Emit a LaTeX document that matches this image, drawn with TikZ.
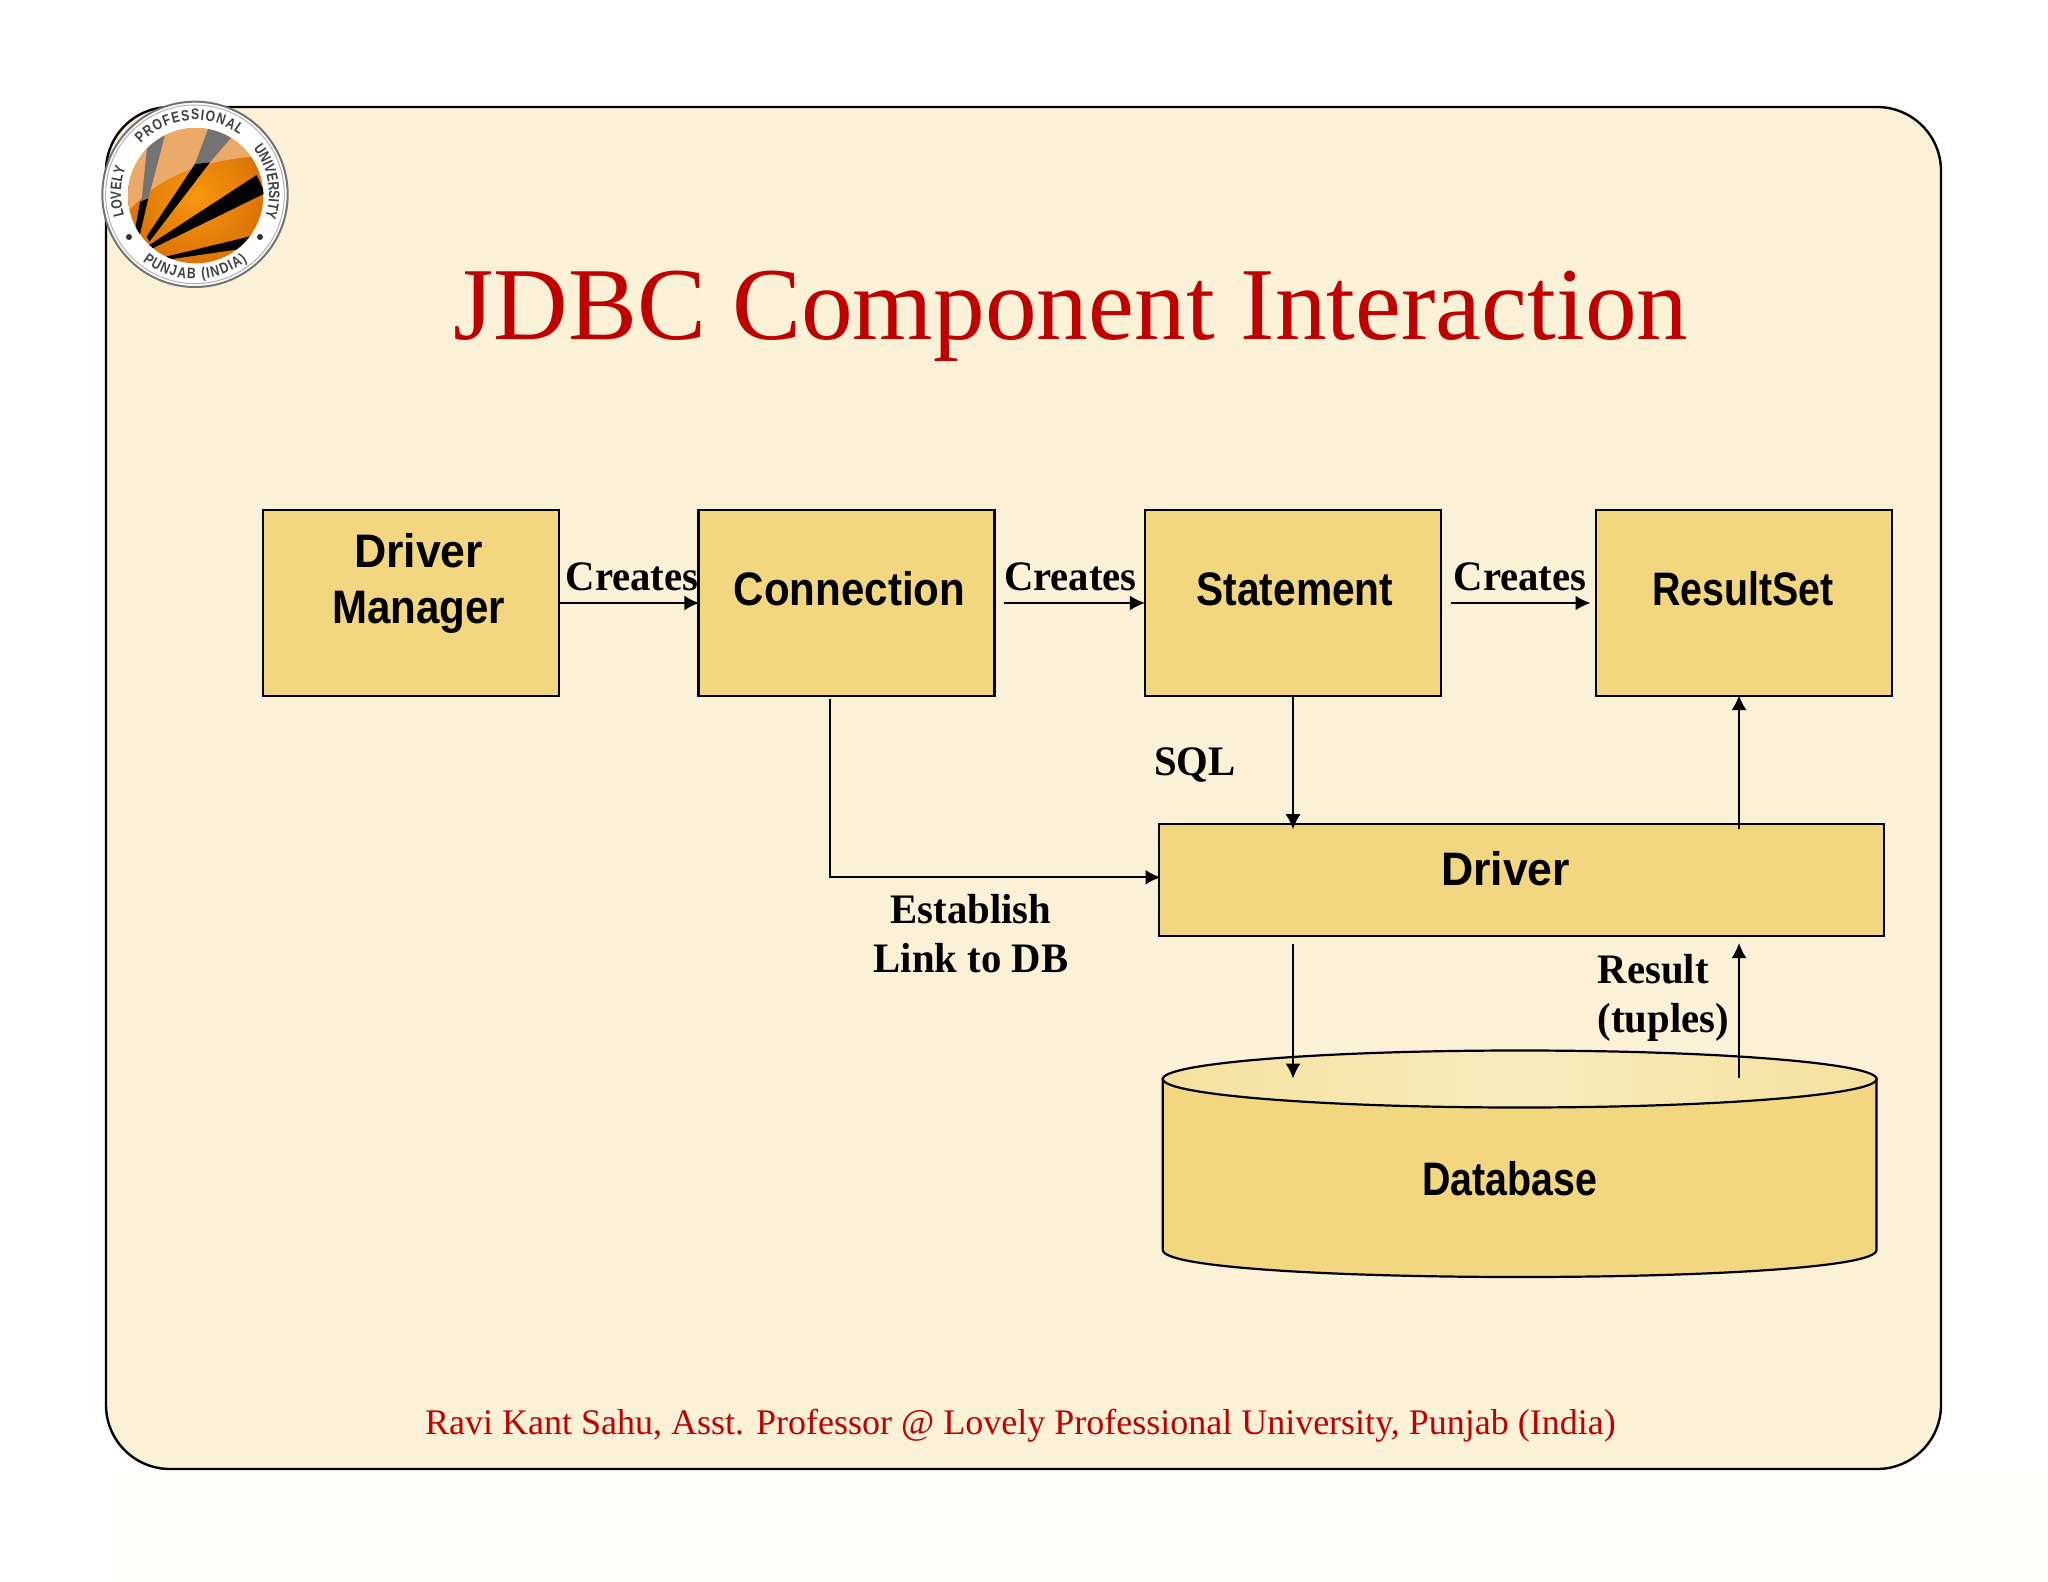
\documentclass[tikz,border=0pt]{standalone}
\usepackage{fontspec}
\usetikzlibrary{arrows.meta,calc,decorations.text}
\setmainfont{Liberation Serif}
\newfontfamily\boxwide{Liberation Sans}[FakeStretch=0.95]
\newfontfamily\boxfont{Liberation Sans}[FakeStretch=0.895]
\newfontfamily\boxmid{Liberation Sans}[FakeStretch=0.866]
\newfontfamily\boxnarrow{Liberation Sans}[FakeStretch=0.837]
\newfontfamily\logofont{Liberation Sans}[FakeStretch=0.8]
\newfontfamily\labelfont{Liberation Serif}[FakeStretch=0.97]
\definecolor{panelfill}{HTML}{FBF1D7}
\definecolor{boxfill}{HTML}{F2D780}
\definecolor{lidfill}{HTML}{F9EABB}
\definecolor{lidedge}{HTML}{F5E2A0}
\definecolor{titlered}{HTML}{C00000}
\definecolor{discglow}{HTML}{F8960F}
\definecolor{discedge}{HTML}{DC7406}
\definecolor{discgloss}{HTML}{EBA96A}
\begin{document}
\begin{tikzpicture}[x=0.5pt,y=-0.5pt,
    box/.style={draw=black,fill=boxfill,line width=1.1pt,minimum width=148pt,minimum height=93pt,inner sep=0pt},
    boxtext/.style={anchor=base,font=#1\bfseries\fontsize{23.5}{28}\selectfont},
    lbl/.style={anchor=base,inner sep=0pt,font=\labelfont\bfseries\fontsize{21}{24.5}\selectfont},
    logoword/.style={decorate,decoration={text along path,text align=fit to path,text={|\logofont\bfseries\fontsize{7.6}{8}\selectfont\color{black!75}|#1}}},
    conn/.style={line width=1pt,-{Latex[length=7.5pt,width=7.5pt]}}]
  \useasboundingbox (0,0) rectangle (2048,1582);
  \fill[white] (0,0) rectangle (2048,1582);
  \fill[panelfill!6!white] (112,1470) rectangle (2048,1582);
  % panel
  \draw[fill=panelfill,line width=1.2pt,rounded corners=32pt] (106,107) rectangle (1941,1469);

  % logo, in crop coordinates
  \begin{scope}[shift={(80,80)},x=0.16667pt,y=-0.16667pt]
    \fill[white] (345,343) circle[radius=278];
    \draw[black!55,line width=1pt] (345,343) circle[radius=278];
    \draw[black!30,line width=0.5pt] (345,343) circle[radius=268];
    \clip (347,347) circle[radius=203];
    \shade[inner color=discglow,outer color=discedge] (347,347) circle[radius=203];
    \fill[discgloss] (120,420) .. controls (210,320) and (300,240) .. (580,225) -- (580,100) -- (120,100) -- cycle;
    \fill[black!55] (205,165) -- (255,165) -- (205,355) -- (185,360) -- cycle;
    \fill[black] (180,365) -- (205,355) -- (178,470) -- (165,450) -- cycle;
    \fill[black!55] (385,145) -- (460,165) -- (390,247) -- (345,252) -- cycle;
    \fill[black] (345,252) -- (390,247) -- (208,485) -- (200,470) -- cycle;
    \fill[black] (530,285) -- (555,340) -- (218,505) -- (208,495) -- cycle;
    \fill[black] (515,468) -- (495,505) -- (255,540) -- (245,533) -- cycle;
  \end{scope}
  \fill[black!80] (129,237) circle[radius=3];
  \fill[black!80] (260,237) circle[radius=3];
  \begin{scope}[shift={(195,194)},x=1pt,y=1pt]
    \path[logoword=LOVELY] (197:37) arc (197:160:37);
    \path[logoword=PROFESSIONAL] (137:37) arc (137:53:37);
    \path[logoword=UNIVERSITY] (38:37) arc (38:-18:37);
    \path[logoword={PUNJAB (INDIA)}] (232:42.5) arc (232:308:42.5);
  \end{scope}

  % title and footer
  \node[anchor=base,text=titlered,font=\fontsize{51.7}{56}\selectfont] (title) at (1071,340) {JDBC Component Interaction};
  \node[anchor=base,text=titlered,font=\fontsize{18}{20}\selectfont] (footer) at (1020.5,1434) {Ravi Kant Sahu, Asst. Professor @ Lovely Professional University, Punjab (India)};

  % boxes
  \node[box] (dm) at (411.2,603) {};
  \node[box] (cn) at (846.4,603) {};
  \node[box] (st) at (1293,603) {};
  \node[box] (rs) at (1744,603) {};
  \node[box,minimum width=362.5pt,minimum height=55.7pt] (dr) at (1521.5,880) {};

  % database
  \draw[fill=boxfill,line width=1.1pt] (1162.8,1079) -- (1162.8,1250) .. controls (1162.8,1286) and (1876.5,1286) .. (1876.5,1250) -- (1876.5,1079) -- cycle;
  \draw[left color=lidedge,right color=lidedge,middle color=lidfill,line width=1.1pt] (1519.7,1079) ellipse[x radius=356.9,y radius=28.5];
  \node[minimum width=356pt,minimum height=85pt,inner sep=0pt] (db) at (1519.7,1164) {};

  \node[boxtext=\boxwide] (dmt) at (418.6,567.5) {Driver};
  \node[boxtext=\boxfont] (dmu) at (418.6,623.5) {Manager};
  \node[boxtext=\boxfont] (cnt) at (849.5,605) {Connection};
  \node[boxtext=\boxmid] (stt) at (1295,605) {Statement};
  \node[boxtext=\boxnarrow] (rst) at (1742.8,605) {ResultSet};
  \node[boxtext=\boxwide] (drt) at (1505.6,885) {Driver};
  \node[boxtext=\boxnarrow] (dbt) at (1509.5,1195) {Database};

  % connector labels
  \node[lbl] (c1) at (632,590.2) {Creates};
  \node[lbl] (c2) at (1070.4,590.2) {Creates};
  \node[lbl] (c3) at (1520,590.2) {Creates};
  \node[lbl] (sql) at (1195,775) {SQL};
  \node[lbl,anchor=center,align=center] (est) at (971,933.5) {Establish\\Link to DB};
  \node[lbl,anchor=west,align=left] (res) at (1597.4,997.5) {Result\\(tuples)};

  % free ends
  \coordinate (cnout) at (1003.8,603);
  \coordinate (stout) at (1450.8,603);
  \coordinate (rsin) at (1590.5,603);
  \coordinate (cnin) at (829.8,699.3);
  \coordinate (drin) at (1160.5,877.3);
  \coordinate (up) at (1739,829);
  \coordinate (drlow) at (1293,944);
  \coordinate (dbin) at (1293,1078.5);
  \coordinate (dbout) at (1739,1077.7);
  \coordinate (drhigh) at (1739,943);

  \draw[conn,shorten >=-1pt] (dm.east |- cnout) -- (cn.west |- cnout);
  \draw[conn,shorten >=-0.5pt] (cnout) -- (st.west |- cnout);
  \draw[conn] (stout) -- (rsin);
  \draw[conn] (cnin) |- (drin);
  \draw[conn,line width=0.85pt,shorten >=-3pt] (st.south) -- (st.south |- dr.north);
  \draw[conn,shorten >=-1pt] (up) -- (up |- rs.south);
  \draw[conn,line width=0.85pt] (drlow) -- (dbin);
  \draw[conn] (dbout) -- (drhigh);
\end{tikzpicture}
\end{document}
